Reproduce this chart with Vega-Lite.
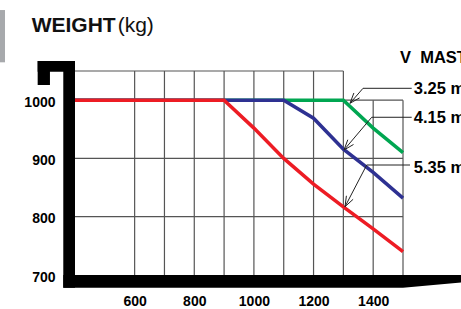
{
  "$schema": "https://vega.github.io/schema/vega-lite/v6.json",
  "width": 328,
  "height": 204,
  "autosize": {"type": "none"},
  "padding": {"left": 75, "top": 71, "right": 58, "bottom": 34},
  "background": "white",
  "config": {"view": {"stroke": null}, "font": "Liberation Sans"},
  "datasets": {
    "tag": [{"x": 148.5, "x2": 165.3, "y": 1154.6, "y2": 1064.9}],
    "grid_v": [
      {"x": 600, "y": 700, "y2": 1050}, {"x": 700, "y": 700, "y2": 1050},
      {"x": 800, "y": 700, "y2": 1050}, {"x": 900, "y": 700, "y2": 1050},
      {"x": 1000, "y": 700, "y2": 1050}, {"x": 1100, "y": 700, "y2": 1050},
      {"x": 1200, "y": 700, "y2": 1050}, {"x": 1300, "y": 700, "y2": 1050},
      {"x": 1400, "y": 700, "y2": 1000}, {"x": 1500, "y": 700, "y2": 1000}
    ],
    "grid_h": [
      {"y": 800, "x": 400, "x2": 1500}, {"y": 900, "x": 400, "x2": 1500},
      {"y": 1000, "x": 400, "x2": 1500}, {"y": 1050, "x": 400, "x2": 1300}
    ],
    "load": [
      {"mast": "3.25 m", "x": 400, "y": 1000}, {"mast": "3.25 m", "x": 1300, "y": 1000},
      {"mast": "3.25 m", "x": 1400, "y": 952}, {"mast": "3.25 m", "x": 1500, "y": 910},
      {"mast": "4.15 m", "x": 400, "y": 1000}, {"mast": "4.15 m", "x": 1100, "y": 1000},
      {"mast": "4.15 m", "x": 1200, "y": 969}, {"mast": "4.15 m", "x": 1300, "y": 916},
      {"mast": "4.15 m", "x": 1400, "y": 876}, {"mast": "4.15 m", "x": 1500, "y": 832},
      {"mast": "5.35 m", "x": 400, "y": 1000}, {"mast": "5.35 m", "x": 900, "y": 1000},
      {"mast": "5.35 m", "x": 1000, "y": 952}, {"mast": "5.35 m", "x": 1100, "y": 900},
      {"mast": "5.35 m", "x": 1200, "y": 856}, {"mast": "5.35 m", "x": 1300, "y": 817},
      {"mast": "5.35 m", "x": 1400, "y": 779}, {"mast": "5.35 m", "x": 1500, "y": 740}
    ],
    "leaders": [
      {"x": 1529.2, "y": 1020.3, "x2": 1365.9, "y2": 1020.3},
      {"x": 1365.9, "y": 1020.3, "x2": 1322.3, "y2": 994.6},
      {"x": 1322.3, "y": 994.6, "x2": 1354.5, "y2": 1003.9},
      {"x": 1322.3, "y": 994.6, "x2": 1335.3, "y2": 1012.3},
      {"x": 1529.2, "y": 970.6, "x2": 1395.0, "y2": 970.6},
      {"x": 1395.0, "y": 970.6, "x2": 1302.1, "y2": 914.5},
      {"x": 1302.1, "y": 914.5, "x2": 1334.0, "y2": 923.9},
      {"x": 1302.1, "y": 914.5, "x2": 1314.9, "y2": 932.1},
      {"x": 1523.5, "y": 888.7, "x2": 1378.3, "y2": 888.7},
      {"x": 1378.3, "y": 888.7, "x2": 1305.5, "y2": 817.2},
      {"x": 1305.5, "y": 817.2, "x2": 1332.7, "y2": 829.9},
      {"x": 1305.5, "y": 817.2, "x2": 1310.2, "y2": 835.9}
    ],
    "frame": [
      {"x": 360.7, "x2": 400, "y": 678, "y2": 1067.2},
      {"x": 274.8, "x2": 400, "y": 1048.8, "y2": 1067.2},
      {"x": 274.8, "x2": 316, "y": 1026, "y2": 1067.2},
      {"x": 360.7, "x2": 1500, "y": 678, "y2": 700}
    ],
    "taper": [
      {"x": 1500, "y": 700, "y2": 678},
      {"x": 1700, "y": 700, "y2": 687.5}
    ],
    "title_bold": [{"x": 254.8, "y": 1116.4, "text": "WEIGHT"}],
    "title_unit": [{"x": 543, "y": 1116.4, "text": "(kg)"}],
    "labels": [
      {"x": 1490, "y": 1064.2, "text": "V\u00a0\u00a0MAST"},
      {"x": 1536, "y": 1010.5, "text": "3.25 m"},
      {"x": 1536, "y": 960.8, "text": "4.15 m"},
      {"x": 1536, "y": 874.5, "text": "5.35 m"}
    ]
  },
  "encoding": {
    "x": {
      "field": "x", "type": "quantitative",
      "scale": {"domain": [400, 1500], "nice": false, "zero": false},
      "axis": {
        "values": [600, 800, 1000, 1200, 1400], "format": "d", "title": null, "domain": false,
        "ticks": false, "tickSize": 0, "grid": false, "labelPadding": 19,
        "labelFont": "Liberation Sans", "labelFontSize": 14, "labelFontWeight": "bold",
        "labelColor": "#000000"
      }
    },
    "y": {
      "field": "y", "type": "quantitative",
      "scale": {"domain": [700, 1050], "nice": false, "zero": false},
      "axis": {
        "values": [700, 800, 900, 1000], "format": "d", "title": null, "domain": false,
        "ticks": false, "tickSize": 0, "grid": false, "labelPadding": 20, "labelOffset": 2,
        "labelFont": "Liberation Sans", "labelFontSize": 14, "labelFontWeight": "bold",
        "labelColor": "#000000"
      }
    }
  },
  "layer": [
    {
      "data": {"name": "tag"},
      "mark": {"type": "rect", "color": "#a7a9ac"},
      "encoding": {"x2": {"field": "x2"}, "y2": {"field": "y2"}}
    },
    {
      "data": {"name": "grid_v"},
      "mark": {"type": "rule", "color": "#555555", "strokeWidth": 1.2},
      "encoding": {"y2": {"field": "y2"}}
    },
    {
      "data": {"name": "grid_h"},
      "mark": {"type": "rule", "color": "#555555", "strokeWidth": 1.2},
      "encoding": {"x2": {"field": "x2"}}
    },
    {
      "data": {"name": "load"},
      "mark": {"type": "line", "strokeWidth": 3.5},
      "encoding": {
        "color": {
          "field": "mast", "type": "nominal",
          "scale": {"domain": ["3.25 m", "4.15 m", "5.35 m"], "range": ["#00a651", "#2e3192", "#ed1c24"]},
          "legend": null
        }
      }
    },
    {
      "data": {"name": "leaders"},
      "mark": {"type": "rule", "color": "#222222", "strokeWidth": 1},
      "encoding": {"x2": {"field": "x2"}, "y2": {"field": "y2"}}
    },
    {
      "data": {"name": "frame"},
      "mark": {"type": "rect", "color": "#000000"},
      "encoding": {"x2": {"field": "x2"}, "y2": {"field": "y2"}}
    },
    {
      "data": {"name": "taper"},
      "mark": {"type": "area", "color": "#000000"},
      "encoding": {"y2": {"field": "y2"}}
    },
    {
      "data": {"name": "title_bold"},
      "mark": {"type": "text", "align": "left", "baseline": "alphabetic", "fontSize": 21, "fontWeight": "bold", "color": "#111111"},
      "encoding": {"text": {"field": "text"}}
    },
    {
      "data": {"name": "title_unit"},
      "mark": {"type": "text", "align": "left", "baseline": "alphabetic", "fontSize": 21, "fontWeight": "normal", "color": "#111111"},
      "encoding": {"text": {"field": "text"}}
    },
    {
      "data": {"name": "labels"},
      "mark": {"type": "text", "align": "left", "baseline": "alphabetic", "fontSize": 16.5, "fontWeight": "bold", "color": "#000000"},
      "encoding": {"text": {"field": "text"}}
    }
  ]
}
